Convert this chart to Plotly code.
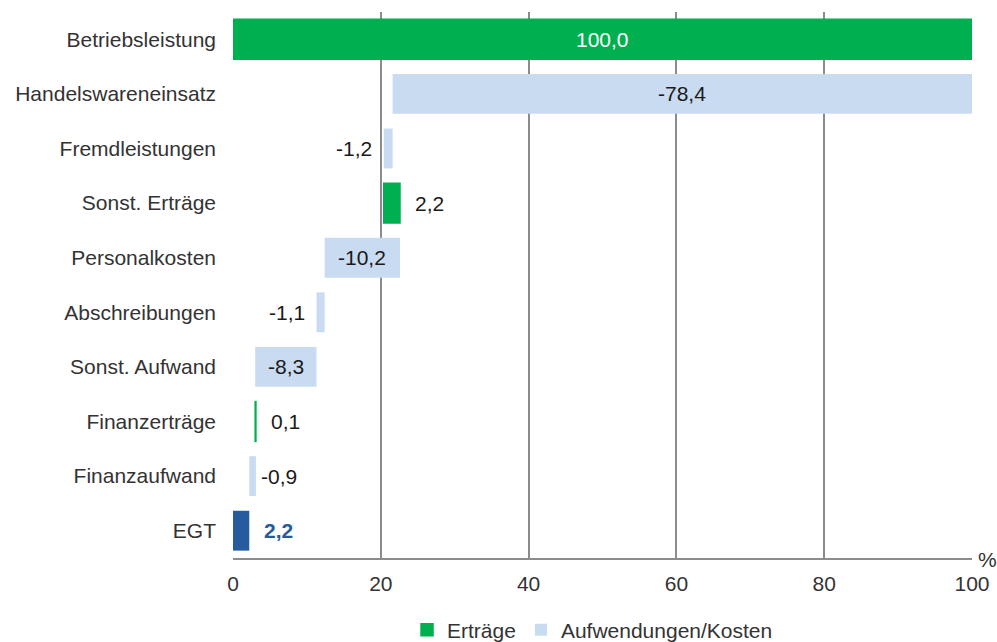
import plotly.graph_objects as go

categories = ["Betriebsleistung", "Handelswareneinsatz", "Fremdleistungen", "Sonst. Erträge",
              "Personalkosten", "Abschreibungen", "Sonst. Aufwand", "Finanzerträge",
              "Finanzaufwand", "EGT"]
values = [100.0, -78.4, -1.2, 2.2, -10.2, -1.1, -8.3, 0.1, -0.9, 2.2]
kinds = ["ertrag", "aufwand", "aufwand", "ertrag", "aufwand", "aufwand", "aufwand",
         "ertrag", "aufwand", "total"]
label_pos = ["in", "in", "left", "right", "in", "left", "in", "right", "right", "right"]
x_ticks = [0, 20, 40, 60, 80, 100]

GREEN = "#00AF50"
LIGHT = "#C9DBF1"
DARK = "#265C9D"
FONT = "Liberation Sans, Arial, sans-serif"
FS = 21

# waterfall geometry
bases, widths = [], []
running = 0.0
for v, k in zip(values, kinds):
    if k == "total":
        bases.append(0.0)
        widths.append(v)
    else:
        lo = min(running, running + v)
        bases.append(lo)
        widths.append(abs(v))
        running += v

def fmt(v):
    return f"{v:.1f}".replace(".", ",")

fig = go.Figure()
groups = [("ertrag", "Erträge", GREEN, True, 1.5), ("aufwand", "Aufwendungen/Kosten", LIGHT, True, 0),
          ("total", "EGT", DARK, False, 0)]
for key, name, color, show, lw in groups:
    idx = [i for i, k in enumerate(kinds) if k == key]
    fig.add_trace(go.Bar(
        y=[categories[i] for i in idx],
        x=[widths[i] for i in idx],
        base=[bases[i] for i in idx],
        orientation="h",
        name=name,
        marker=dict(color=color, line=dict(width=lw, color=color)),
        width=0.73,
        showlegend=show,
        hoverinfo="skip",
    ))

annotations = []
for i, (c, v, k, p) in enumerate(zip(categories, values, kinds, label_pos)):
    color = "#1a1a1a"
    if i == 0:
        color = "white"
    if k == "total":
        color = DARK
    txt = fmt(v)
    if k == "total":
        txt = "<b>" + txt + "</b>"
    if p == "in":
        x = bases[i] + widths[i] / 2
        anchor, shift = "center", 0
    elif p == "left":
        x = bases[i]
        anchor, shift = "right", -10
    else:
        x = bases[i] + widths[i]
        anchor, shift = "left", 13 if k != "aufwand" else 3
    annotations.append(dict(x=x, y=c, xref="x", yref="y", text=txt, showarrow=False,
                            xanchor=anchor, xshift=shift,
                            font=dict(family=FONT, size=FS, color=color)))

annotations.append(dict(x=1, y=0, xref="paper", yref="paper", text="%", showarrow=False,
                        xanchor="left", yanchor="middle", xshift=4, yshift=-1,
                        font=dict(family=FONT, size=FS, color="#333333")))

fig.update_layout(
    width=997, height=642,
    margin=dict(l=233, r=25, t=12, b=84, autoexpand=False),
    plot_bgcolor="white", paper_bgcolor="white",
    barmode="overlay",
    font=dict(family=FONT, size=FS, color="#333333"),
    xaxis=dict(range=[0, 100], tickvals=x_ticks, showgrid=True, gridcolor="#8c8c8c",
               gridwidth=2, showline=True, linecolor="#8c8c8c", linewidth=2,
               zeroline=False, ticks="", tickfont=dict(size=FS, color="#333333"),
               ticklabelstandoff=6, fixedrange=True),
    yaxis=dict(categoryorder="array", categoryarray=categories, autorange="reversed",
               showgrid=False, zeroline=False, ticks="", ticklabelstandoff=16,
               tickfont=dict(size=FS, color="#333333"), fixedrange=True),
    legend=dict(orientation="h", x=0.4865, xanchor="center", y=-0.132, yanchor="middle",
                font=dict(family=FONT, size=FS, color="#333333"), traceorder="normal",
                itemwidth=30),
    annotations=annotations,
    showlegend=True,
)

fig.write_html("out.html")
